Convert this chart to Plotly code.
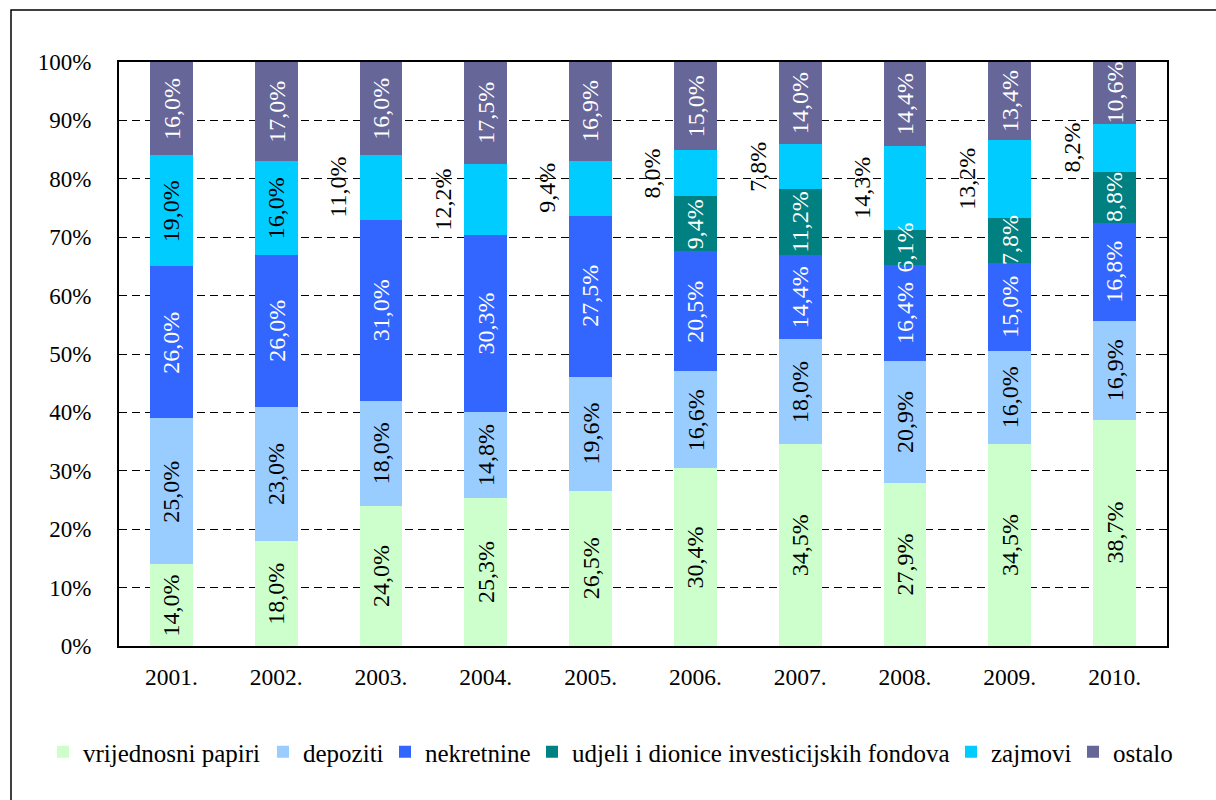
import numpy as np
import plotly.graph_objects as go

years = ["2001.", "2002.", "2003.", "2004.", "2005.", "2006.", "2007.", "2008.", "2009.", "2010."]

vrijednosni_papiri = [14.0, 18.0, 24.0, 25.3, 26.5, 30.4, 34.5, 27.9, 34.5, 38.7]
depoziti = [25.0, 23.0, 18.0, 14.8, 19.6, 16.6, 18.0, 20.9, 16.0, 16.9]
nekretnine = [26.0, 26.0, 31.0, 30.3, 27.5, 20.5, 14.4, 16.4, 15.0, 16.8]
udjeli_fondova = [None, None, None, None, None, 9.4, 11.2, 6.1, 7.8, 8.8]
zajmovi = [19.0, 16.0, 11.0, 12.2, 9.4, 8.0, 7.8, 14.3, 13.2, 8.2]
ostalo = [16.0, 17.0, 16.0, 17.5, 16.9, 15.0, 14.0, 14.4, 13.4, 10.6]

series = [
    ("vrijednosni papiri", vrijednosni_papiri, "#CCFFCC", "black"),
    ("depoziti", depoziti, "#99CCFF", "black"),
    ("nekretnine", nekretnine, "#3366FF", "white"),
    ("udjeli i dionice investicijskih fondova", udjeli_fondova, "#008080", "white"),
    ("zajmovi", zajmovi, "#00CCFF", "black"),
    ("ostalo", ostalo, "#666699", "white"),
]

# left pixel of each legend entry along the bottom row
legend_left_px = [43, 263, 385, 532, 951, 1073]

FONT = "Liberation Serif"

fig = go.Figure()
for i, (name, vals, color, _) in enumerate(series):
    fig.add_trace(go.Bar(
        x=years, y=vals, name=name, marker=dict(color=color, line=dict(width=0)),
        width=0.41, legend="legend" if i == 0 else f"legend{i + 1}",
    ))

# Label positions: middle of each stacked segment, normalised to 100 %
arr = np.array([[np.nan if v is None else v for v in s[1]] for s in series], dtype=float)
filled = np.nan_to_num(arr)
totals = filled.sum(axis=0)
norm = filled / totals * 100
tops = np.cumsum(norm, axis=0)
mids = tops - norm / 2

annotations = []
for si, (name, vals, color, tcolor) in enumerate(series):
    for yi, v in enumerate(vals):
        if v is None:
            continue
        txt = f"{v:.1f}%".replace(".", ",")
        outside = name == "zajmovi" and yi >= 2
        annotations.append(dict(
            x=yi, y=mids[si, yi], xref="x", yref="y",
            text=txt, showarrow=False, textangle=-90,
            xshift=-43 if outside else 0,
            font=dict(family=FONT, size=24, color="black" if outside else tcolor),
        ))

shapes = [dict(
    type="rect", xref="paper", yref="paper",
    x0=(11 - 119) / 1048, x1=(1230 - 119) / 1048,
    y0=(646 - 810) / 584, y1=(646 - 10) / 584,
    line=dict(color="black", width=1.5), fillcolor="rgba(0,0,0,0)", layer="below",
)]

legends = {}
for i, px in enumerate(legend_left_px):
    key = "legend" if i == 0 else f"legend{i + 1}"
    legends[key] = dict(
        orientation="h", xref="container", yref="container",
        x=px / 1216, xanchor="left", y=1 - 752 / 800, yanchor="middle",
        font=dict(family=FONT, size=25, color="black"),
        bgcolor="rgba(0,0,0,0)",
    )

fig.update_layout(
    barmode="stack", barnorm="percent",
    width=1216, height=800,
    margin=dict(l=119, r=49, t=62, b=154, autoexpand=False),
    paper_bgcolor="white", plot_bgcolor="white",
    font=dict(family=FONT, size=22, color="black"),
    showlegend=True,
    annotations=annotations,
    shapes=shapes,
    **legends,
)
fig.update_xaxes(
    type="category",
    showline=True, linecolor="black", linewidth=2, mirror=True,
    ticks="", tickfont=dict(family=FONT, size=23.5), showgrid=False,
    ticklabelstandoff=9,
)
fig.update_yaxes(
    range=[0, 100], dtick=10, ticksuffix="%",
    showline=True, linecolor="black", linewidth=2, mirror=True,
    ticks="", showgrid=True, gridcolor="black", gridwidth=1, griddash="8px,5px",
    tickfont=dict(family=FONT, size=23), ticklabelstandoff=21,
)

fig.write_html("out.html")
